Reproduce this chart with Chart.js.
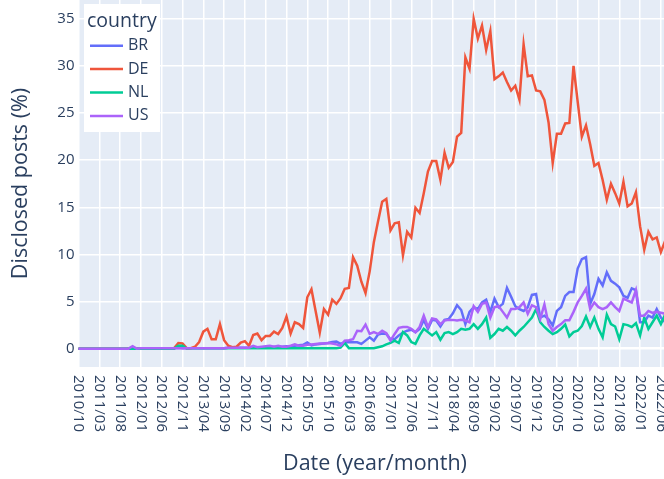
<!DOCTYPE html>
<html>
<head>
<meta charset="utf-8">
<script src="https://cdn.jsdelivr.net/npm/chart.js@4.4.1/dist/chart.umd.min.js"></script>
<style>
  html, body { margin: 0; padding: 0; background: #fff; overflow: hidden; }
  #wrap { width: 672px; height: 479px; }
</style>
</head>
<body>
<div id="wrap"><canvas id="chart" width="672" height="479"></canvas></div>
<script>
// Monthly shares of disclosed posts (%), one value per month starting 2010/10
const tickLabels = ["2010/10", "2011/03", "2011/08", "2012/01", "2012/06", "2012/11", "2013/04",
  "2013/09", "2014/02", "2014/07", "2014/12", "2015/05", "2015/10", "2016/03", "2016/08",
  "2017/01", "2017/06", "2017/11", "2018/04", "2018/09", "2019/02", "2019/07", "2019/12",
  "2020/05", "2020/10", "2021/03", "2021/08", "2022/01", "2022/06"];
const yTicks = [0, 5, 10, 15, 20, 25, 30, 35];

const brValues = [
  0, 0, 0, 0, 0, 0, 0, 0, 0, 0,
  0, 0, 0, 0.12, 0, 0.02, 0.02, 0.02, 0.02, 0.02,
  0.02, 0.02, 0.02, 0.05, 0.1, 0.05, 0.05, 0.05, 0.05, 0.05,
  0.05, 0.05, 0.05, 0.05, 0.05, 0.05, 0.1, 0.1, 0.1, 0.1,
  0.1, 0.1, 0.1, 0.1, 0.1, 0.15, 0.1, 0.2, 0.15, 0.2,
  0.25, 0.2, 0.3, 0.35, 0.4, 0.65, 0.35, 0.45, 0.5, 0.55,
  0.6, 0.7, 0.75, 0.5, 0.67, 0.67, 0.67, 0.67, 0.5, 0.85,
  1.2, 0.85, 1.5, 1.6, 1.55, 1.0, 1.0, 1.4, 1.7, 1.9,
  2.0, 1.75, 2.1, 3.05, 2.1, 3.05, 2.98, 2.35, 3.05, 3.15,
  3.75, 4.6, 4.1, 2.6, 3.9, 4.4, 4.2, 4.9, 5.2, 3.9,
  5.3, 4.4, 4.75, 6.45, 5.5, 4.5, 4.2, 4.0, 4.4, 5.7,
  5.8, 3.3, 3.5, 3.1, 2.45, 4.0, 4.4, 5.6, 6.0, 6.0,
  8.5, 9.5, 9.7, 4.75, 5.8, 7.4, 6.7, 8.1, 7.2, 6.9,
  6.5, 5.6, 5.4, 6.4, 6.2, 2.8, 2.8, 3.5, 3.3, 4.2,
  3.3, 2.8, 3.0
];
const deValues = [
  0, 0, 0, 0, 0, 0, 0, 0, 0, 0,
  0, 0, 0, 0, 0, 0, 0, 0, 0, 0,
  0, 0, 0, 0.05, 0.6, 0.55, 0.05, 0.05, 0.2, 0.7,
  1.8, 2.1, 1.0, 1.0, 2.6, 0.9, 0.3, 0.15, 0.2, 0.65,
  0.8, 0.3, 1.45, 1.6, 0.9, 1.35, 1.35, 1.8, 1.55, 2.2,
  3.4, 1.6, 2.8, 2.6, 2.2, 5.45, 6.3, 4.0, 1.7, 4.2,
  3.6, 5.2, 4.75, 5.35, 6.35, 6.45, 9.7, 8.8, 7.1, 5.9,
  8.2, 11.3, 13.5, 15.6, 15.9, 12.55, 13.3, 13.4, 9.9, 12.4,
  11.8, 14.95, 14.4, 16.5, 18.8, 19.9, 19.9, 17.9, 20.8, 19.2,
  19.8, 22.5, 22.9, 30.9, 29.7, 35.0, 32.9, 34.3, 31.7, 33.7,
  28.6, 28.9, 29.3, 28.3, 27.4, 27.9, 26.4, 32.3, 28.9, 29.0,
  27.4, 27.3, 26.4, 24.0, 19.7, 22.8, 22.8, 23.9, 23.95, 30.0,
  26.2, 22.5, 23.7, 21.7, 19.4, 19.7, 17.9, 15.8, 17.5, 16.5,
  15.4, 17.7, 15.1, 15.4, 16.6, 13.0, 10.5, 12.4, 11.6, 11.8,
  10.25, 11.4, 11.2
];
const nlValues = [
  0, 0, 0, 0, 0, 0, 0, 0, 0, 0,
  0, 0, 0, 0, 0, 0, 0, 0, 0, 0,
  0, 0, 0, 0, 0.3, 0.3, 0.02, 0.03, 0.03, 0.03,
  0.03, 0.03, 0.03, 0.03, 0.03, 0.03, 0.03, 0.03, 0.03, 0.03,
  0.03, 0.03, 0.03, 0.03, 0.03, 0.03, 0.03, 0.03, 0.03, 0.03,
  0.03, 0.03, 0.03, 0.03, 0.03, 0.03, 0.03, 0.03, 0.03, 0.03,
  0.03, 0.03, 0.03, 0.1, 0.6, 0.05, 0.05, 0.05, 0.05, 0.05,
  0.05, 0.05, 0.15, 0.25, 0.45, 0.6, 0.85, 0.6, 1.75, 1.4,
  0.7, 0.5, 1.4, 2.1, 1.75, 1.4, 1.75, 0.95, 1.65, 1.75,
  1.55, 1.75, 2.1, 2.0, 2.1, 2.6, 2.1, 2.6, 3.3, 1.15,
  1.55, 2.1, 1.9, 2.3, 1.9, 1.4, 1.9, 2.3, 2.8, 3.3,
  4.2, 2.8, 2.3, 1.9, 1.55, 1.75, 2.1, 2.55, 1.3, 1.75,
  1.9, 2.4, 3.4, 2.3, 3.3, 2.1, 1.2, 3.6, 2.6, 2.35,
  1.0, 2.6, 2.5, 2.3, 2.7, 1.4, 3.3, 2.1, 2.8, 3.5,
  2.6, 3.6, 3.0
];
const usValues = [
  0, 0, 0, 0, 0, 0, 0, 0, 0, 0,
  0, 0, 0, 0.25, 0, 0.03, 0.03, 0.03, 0.03, 0.03,
  0.03, 0.03, 0.03, 0.03, 0.03, 0.03, 0.05, 0.05, 0.05, 0.05,
  0.05, 0.05, 0.05, 0.05, 0.05, 0.05, 0.1, 0.1, 0.1, 0.1,
  0.1, 0.1, 0.3, 0.15, 0.2, 0.25, 0.3, 0.2, 0.3, 0.2,
  0.2, 0.3, 0.45, 0.3, 0.3, 0.4, 0.45, 0.5, 0.55, 0.55,
  0.6, 0.55, 0.45, 0.3, 0.85, 0.9, 1.0, 1.9, 1.85, 2.55,
  1.56, 1.75, 1.56, 1.9, 1.63, 0.85, 1.56, 2.2, 2.3, 2.3,
  2.1, 1.74, 2.3, 3.5, 2.3, 3.2, 3.1, 2.6, 2.98, 3.05,
  3.05, 2.98, 3.05, 2.98, 2.8, 4.5, 3.9, 4.75, 4.9, 3.3,
  4.4, 4.5, 3.9, 3.3, 4.2, 4.2, 4.4, 4.9, 3.7, 4.6,
  4.4, 3.15, 4.7, 2.6, 1.9, 2.3, 2.6, 3.0, 3.0, 3.9,
  4.9, 5.6, 6.35, 4.2, 4.9, 4.4, 4.2, 4.4, 4.9, 4.4,
  4.0, 5.3, 5.1, 4.9, 6.2, 3.5, 3.5, 4.0, 3.8, 3.9,
  3.8, 3.7, 3.6
];

const countries = ["BR", "DE", "NL", "US"];
const colors = ["#636efa", "#EF553B", "#00cc96", "#ab63fa"];
const series = [brValues, deValues, nlValues, usValues];

// month categories, one per value
const months = [];
for (let i = 0; i < deValues.length; i++) {
  const m = 9 + i; // 2010/10 is month index 9 of 2010
  const yr = 2010 + Math.floor(m / 12);
  const mo = (m % 12) + 1;
  months.push(yr + "/" + String(mo).padStart(2, "0"));
}

const textColor = "#2a3f5f";
const fontFam = '"Open Sans", verdana, arial, sans-serif';

// titles, rotated date ticks and the legend box, drawn like plotly does
const plotlyDecor = {
  id: "plotlyDecor",
  afterDraw(chart) {
    const { ctx, chartArea } = chart;
    const x = chart.scales.x, y = chart.scales.y;
    ctx.save();
    ctx.fillStyle = textColor;

    ctx.font = "15px " + fontFam;
    ctx.textAlign = "right";
    ctx.textBaseline = "middle";
    yTicks.forEach(v => ctx.fillText(String(v), chartArea.left - 4, y.getPixelForValue(v)));

    ctx.textAlign = "left";
    tickLabels.forEach((lab, i) => {
      ctx.save();
      ctx.translate(x.getPixelForValue(i * 5), chartArea.bottom + 8);
      ctx.rotate(Math.PI / 2);
      ctx.fillText(lab, 0, 0);
      ctx.restore();
    });

    ctx.font = "21.5px " + fontFam;
    ctx.textAlign = "center";
    ctx.fillText("Date (year/month)", 375, 464);
    ctx.save();
    ctx.translate(21, 183.5);
    ctx.rotate(-Math.PI / 2);
    ctx.fillText("Disclosed posts (%)", 0, 0);
    ctx.restore();

    // legend
    ctx.fillStyle = "#fff";
    ctx.fillRect(84, 4, 76, 128);
    ctx.fillStyle = textColor;
    ctx.textAlign = "left";
    ctx.font = "19.5px " + fontFam;
    ctx.fillText("country", 87, 21);
    ctx.font = "16px " + fontFam;
    countries.forEach((c, i) => {
      const ly = 45.7 + i * 23.4;
      ctx.strokeStyle = colors[i];
      ctx.lineWidth = 2.5;
      ctx.beginPath();
      ctx.moveTo(90, ly);
      ctx.lineTo(123, ly);
      ctx.stroke();
      ctx.fillText(c, 128, ly);
    });
    ctx.restore();
  }
};

new Chart(document.getElementById("chart"), {
  type: "line",
  data: {
    labels: months,
    datasets: countries.map((c, i) => ({
      label: c,
      data: series[i],
      borderColor: colors[i],
      borderWidth: 2.5,
      pointRadius: 0,
      tension: 0,
      fill: false,
      order: 3 - i
    }))
  },
  options: {
    responsive: false,
    animation: false,
    devicePixelRatio: 1,
    layout: { padding: { left: 78.5, right: 2.8, top: 0, bottom: 112 } },
    plugins: {
      legend: { display: false },
      tooltip: { enabled: false }
    },
    scales: {
      x: {
        type: "category",
        offset: false,
        afterBuildTicks: axis => { axis.ticks = axis.ticks.filter(t => t.value % 5 === 0); },
        ticks: { display: false },
        grid: { color: "#fff", lineWidth: 1.5, drawTicks: false },
        border: { display: false }
      },
      y: {
        min: -1.95,
        max: 37,
        afterBuildTicks: axis => { axis.ticks = yTicks.map(v => ({ value: v })); },
        ticks: { display: false },
        grid: {
          color: "#fff",
          lineWidth: ctx => (ctx.tick && ctx.tick.value === 0 ? 2.5 : 1.5),
          drawTicks: false
        },
        border: { display: false }
      }
    }
  },
  plugins: [
    {
      id: "plotBg",
      beforeDraw(chart) {
        const a = chart.chartArea;
        chart.ctx.save();
        chart.ctx.fillStyle = "#e5ecf6";
        chart.ctx.fillRect(a.left, a.top, a.right - a.left, a.bottom - a.top);
        chart.ctx.restore();
      }
    },
    plotlyDecor
  ]
});
</script>
</body>
</html>
